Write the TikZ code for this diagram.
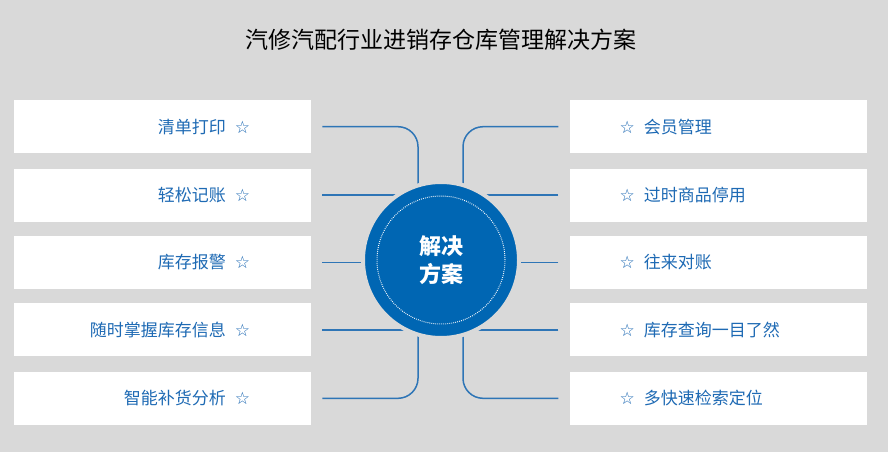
\documentclass[tikz,border=0pt]{standalone}
\usepackage{fontspec}
\setmainfont{Noto Sans CJK SC}
\newfontfamily\starfont{DejaVu Sans}
\usetikzlibrary{positioning,backgrounds}
\definecolor{bgray}{RGB}{217,217,217}
\definecolor{accent}{RGB}{0,102,179}
\definecolor{wirec}{RGB}{46,117,182}
\definecolor{lbl}{RGB}{30,106,180}
\newcommand{\lstar}{\hspace{9pt}{\starfont\bfseries\fontsize{17}{17}\selectfont ☆}}
\newcommand{\rstar}{{\starfont\bfseries\fontsize{17}{17}\selectfont ☆}\hspace{9pt}}
\tikzset{
  itm/.style={fill=white,minimum width=297pt,minimum height=53pt,inner ysep=0pt,
    font=\fontsize{17}{17}\selectfont,text=lbl,anchor=north west},
  litm/.style={itm,align=right,text width=175pt,inner xsep=61pt},
  ritm/.style={itm,align=left,text width=197pt,inner xsep=50pt},
  lnk/.style={wirec,line width=1.5pt,rounded corners=20pt},
}

\begin{document}
\begin{tikzpicture}[x=1pt,y=-1pt,
  hub/.style={circle,fill=accent,draw=bgray,line width=4pt,minimum size=156pt,inner sep=0pt,
    align=center,text=white,font=\bfseries\fontsize{22}{28.5}\selectfont},
  ttl/.style={font=\fontsize{23}{23}\selectfont,text=black}]
  \useasboundingbox (0,0) rectangle (888,452);
  \node[ttl] (title) at (441,40) {汽修汽配行业进销存仓库管理解决方案};
  % left column
  \node[litm] (l1) at (14,100) {清单打印\lstar};
  \node[litm,below=15pt of l1] (l2) {轻松记账\lstar};
  \node[litm,below=14pt of l2] (l3) {库存报警\lstar};
  \node[litm,below=14pt of l3] (l4) {随时掌握库存信息\lstar};
  \node[litm,below=15pt of l4] (l5) {智能补货分析\lstar};
  % right column
  \node[ritm,right=258pt of l1] (r1) {\rstar 会员管理};
  \node[ritm,right=258pt of l2] (r2) {\rstar 过时商品停用};
  \node[ritm,right=258pt of l3] (r3) {\rstar 往来对账};
  \node[ritm,right=258pt of l4] (r4) {\rstar 库存查询一目了然};
  \node[ritm,right=258pt of l5] (r5) {\rstar 多快速检索定位};
  % center
  \node[hub] (c) at (441,260) {解决\\方案};
  \draw[white,line width=1pt,dash pattern=on 0.8pt off 1.2pt] (c.center) circle (64pt);
  \begin{scope}[on background layer]
    \fill[bgray] (0,0) rectangle (888,452);
    \draw[lnk] ([xshift=11pt]l1.east) -| ([xshift=-23pt]c.center);
    \draw[lnk] ([xshift=11pt]l2.east) -- (l2 -| c);
    \draw[lnk] ([xshift=11pt]l3.east) -- (l3 -| c);
    \draw[lnk] ([xshift=11pt]l4.east) -- (l4 -| c);
    \draw[lnk] ([xshift=11pt]l5.east) -| ([xshift=-23pt]c.center);
    \draw[lnk] ([xshift=-11pt]r1.west) -| ([xshift=22pt]c.center);
    \draw[lnk] ([xshift=-11pt]r2.west) -- (r2 -| c);
    \draw[lnk] ([xshift=-11pt]r3.west) -- (r3 -| c);
    \draw[lnk] ([xshift=-11pt]r4.west) -- (r4 -| c);
    \draw[lnk] ([xshift=-11pt]r5.west) -| ([xshift=22pt]c.center);
  \end{scope}
\end{tikzpicture}
\end{document}
